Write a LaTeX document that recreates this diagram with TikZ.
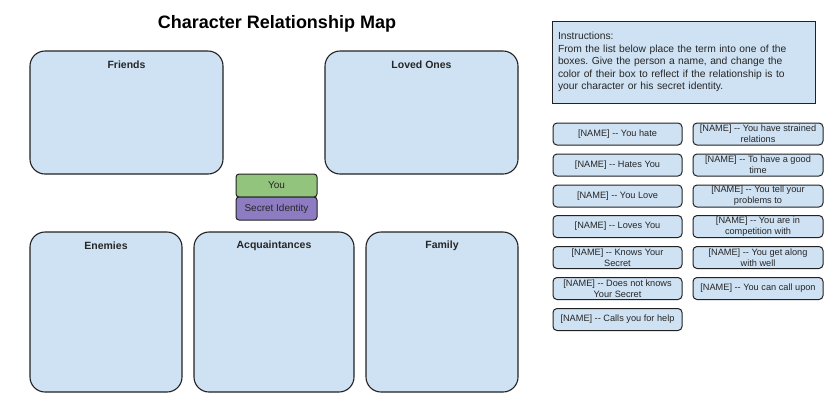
\documentclass[tikz,border=0pt]{standalone}
\usepackage{fontspec}
\setmainfont{Liberation Sans}
\frenchspacing
\newcommand{\dblhy}{-{}-}
\definecolor{boxblue}{HTML}{CFE2F3}
\definecolor{yougreen}{HTML}{93C47D}
\definecolor{secpurple}{HTML}{8E7CC3}
\definecolor{edge}{HTML}{222222}
\begin{document}
\begin{tikzpicture}[x=1pt,y=-1pt,
  bigbox/.style={draw=edge,line width=1.1pt,fill=boxblue,rounded corners=15pt,inner sep=0pt},
  head/.style={font=\fontsize{10.5}{12}\selectfont\bfseries,anchor=center,yshift=-14pt,text=black!85},
  termbox/.style={draw=edge,line width=1pt,fill=boxblue,rounded corners=4pt,minimum height=22pt,inner sep=0pt,align=center,font=\fontsize{9.2}{10.8}\selectfont,text=black!85},
  leftterm/.style={termbox,minimum width=129pt},
  rightterm/.style={termbox,minimum width=130pt},
  selfbox/.style={draw=edge,line width=1pt,rounded corners=3pt,minimum width=81pt,minimum height=23pt,inner sep=0pt,font=\fontsize{10}{12}\selectfont,text=black!85}
]
\useasboundingbox (0,0) rectangle (840,413);
\fill[white] (0,0) rectangle (840,413);

\node[font=\fontsize{18}{21}\selectfont\bfseries] (title) at (277,24) {Character Relationship Map};

\node[bigbox,minimum width=193pt,minimum height=123pt,label={[head]north:Friends}] (friends) at (126.5,112.5) {};
\node[bigbox,minimum width=193pt,minimum height=123pt,label={[head]north:Loved Ones}] (loved) at (421.5,112.5) {};
\node[bigbox,minimum width=152pt,minimum height=160pt,label={[head]north:Enemies}] (enemies) at (106,312) {};
\node[bigbox,minimum width=160pt,minimum height=160pt,label={[head]north:Acquaintances}] (acq) at (274,312) {};
\node[bigbox,minimum width=152pt,minimum height=160pt,label={[head]north:Family}] (family) at (442,312) {};

\node[selfbox,fill=yougreen] (you) at (276.5,185.5) {You};
\node[selfbox,fill=secpurple] (secret) at (276.5,208.5) {Secret Identity};

\node[draw=edge,line width=1pt,fill=boxblue,minimum width=263pt,minimum height=82pt,inner xsep=6pt,inner ysep=0pt,text width=251pt,align=left,font=\fontsize{10.3}{12.5}\selectfont,text=black!85] (instr) at (683.5,62)
{Instructions:\\From the list below place the term into one of the\\boxes. Give the person a name, and change the\\color of their box to reflect if the relationship is to\\your character or his secret identity.};

\node[leftterm] (l1) at (617.5,134) {[NAME] \dblhy{} You hate};
\node[leftterm] (l2) at (617.5,165) {[NAME] \dblhy{} Hates You};
\node[leftterm] (l3) at (617.5,196) {[NAME] \dblhy{} You Love};
\node[leftterm] (l4) at (617.5,226.5) {[NAME] \dblhy{} Loves You};
\node[leftterm] (l5) at (617.5,257.5) {[NAME] \dblhy{} Knows Your\\Secret};
\node[leftterm] (l6) at (617.5,288.5) {[NAME] \dblhy{} Does not knows\\Your Secret};
\node[leftterm] (l7) at (617.5,319.5) {[NAME] \dblhy{} Calls you for help};

\node[rightterm] (r1) at (758,134) {[NAME] \dblhy{} You have strained\\relations};
\node[rightterm] (r2) at (758,165) {[NAME] \dblhy{} To have a good\\time};
\node[rightterm] (r3) at (758,196) {[NAME] \dblhy{} You tell your\\problems to};
\node[rightterm] (r4) at (758,226.5) {[NAME] \dblhy{} You are in\\competition with};
\node[rightterm] (r5) at (758,257.5) {[NAME] \dblhy{} You get along\\with well};
\node[rightterm] (r6) at (758,288.5) {[NAME] \dblhy{} You can call upon};
\end{tikzpicture}
\end{document}
